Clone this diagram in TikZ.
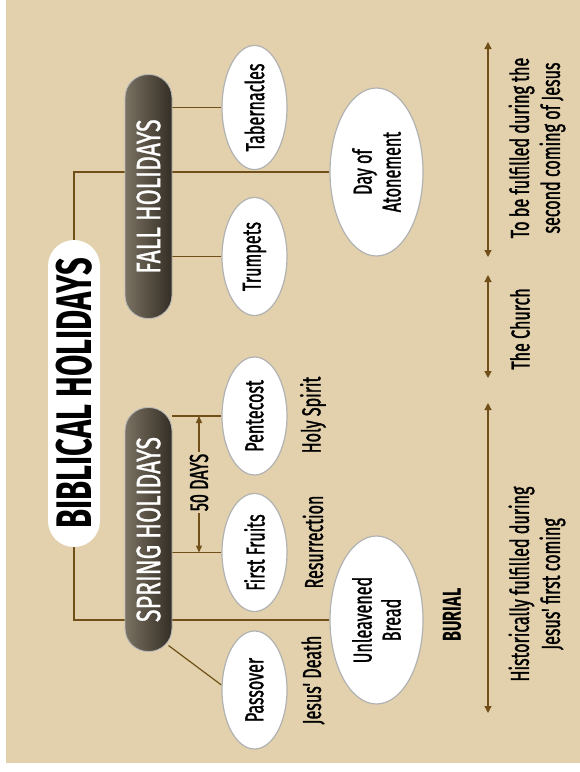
\documentclass[tikz,border=0pt]{standalone}
\usepackage{fontspec}
\setmainfont{Fira Sans}
\newfontfamily\cond[FakeStretch=0.62,FakeBold=1.2]{Fira Sans}
\newfontfamily\condb[FakeStretch=0.62]{Fira Sans}
\newfontfamily\condp[FakeStretch=0.68,FakeBold=0.8]{Fira Sans}
\usetikzlibrary{shapes.geometric,shapes.misc,arrows.meta,calc,backgrounds}
\definecolor{beige}{RGB}{226,209,172}
\definecolor{brownline}{RGB}{112,80,24}
\definecolor{pilldark}{RGB}{52,46,38}
\definecolor{pillmid}{RGB}{86,79,66}
\definecolor{pilllight}{RGB}{122,114,99}
\begin{document}
\begin{tikzpicture}[x=1pt,y=-1pt,
  every node/.style={rotate=90, inner sep=0pt},
  lbl/.style={font=\cond\fontsize{26}{31}\selectfont, align=center, text=black},
  holiday/.style={ellipse, draw=gray!60, line width=1.2pt, fill=white,
    minimum width=118pt, minimum height=65pt,
    font=\cond\fontsize{26}{29}\selectfont, align=center},
  bigholiday/.style={holiday, minimum width=168pt, minimum height=93pt},
  pillbox/.style={rectangle, rotate=-90, rounded corners=23pt, draw=gray!55, line width=0.9pt,
    left color=pilllight, right color=pilldark, middle color=pillmid,
    minimum width=47pt, minimum height=244pt},
  pilltext/.style={text=white, font=\condp\fontsize{34}{34}\selectfont},
  conn/.style={draw=brownline, line width=1.2pt},
  arr/.style={draw=brownline, line width=1.3pt,
    {Triangle[length=7pt,width=7pt]}-{Triangle[length=7pt,width=7pt]}},
  onearr/.style={draw=brownline, line width=1.2pt, -{Triangle[length=7pt,width=6pt]}}
]
\useasboundingbox (0,0) rectangle (580,772);

% group pills
\node[pillbox, label={[pilltext]center:FALL HOLIDAYS}] (fall) at (148.5,196.5) {};
\node[pillbox, label={[pilltext]center:SPRING HOLIDAYS}] (spring) at (148.5,529.5) {};

% title
\node[rounded rectangle, fill=white, minimum width=307pt, minimum height=52pt,
  font=\condb\bfseries\fontsize{50}{50}\selectfont] (title) at (74,393.5) {BIBLICAL HOLIDAYS};

% fall holidays
\node[holiday] (tab) at (254.5,107.5) {Tabernacles};
\node[holiday] (trump) at (254.5,256.5) {Trumpets};
\node[bigholiday] (atone) at (376.5,172) {Day of\\Atonement};

% spring holidays
\node[holiday] (pent) at (254.5,416) {Pentecost};
\node[holiday] (fruit) at (254.5,552.5) {First Fruits};
\node[holiday] (pass) at (254.5,690) {Passover};
\node[bigholiday] (bread) at (376.5,620) {Unleavened\\Bread};

% fulfilment labels
\node[lbl] (death) at (313,680) {Jesus' Death};
\node[lbl] (resur) at (313,542) {Resurrection};
\node[lbl] (spirit) at (313,415) {Holy Spirit};
\node[lbl, font=\condb\bfseries\fontsize{26}{31}\selectfont] (burial) at (452,615) {BURIAL};

% 50 days
\node[lbl, fill=beige, inner xsep=2pt] (fifty) at (199,482.5) {50 DAYS};

% timeline arrows
\coordinate (fa1) at (488,42);
\coordinate (fa2) at (488,257);
\coordinate (ch1) at (488,275);
\coordinate (ch2) at (488,378);
\coordinate (hi1) at (488,403);
\coordinate (hi2) at (488,713);

\node[lbl] (second) at (537,148) {To be fulfilled during the\\second coming of Jesus};
\node[lbl] (church) at (520,329) {The Church};
\node[lbl] (first) at (537,584) {Historically fulfilled during\\Jesus' first coming};

\begin{pgfonlayer}{background}
  \fill[white] (0,0) rectangle (580,772);
  \fill[beige] (6,0) rectangle (580,763);
  \draw[conn] (title.east) |- (atone.north);
  \draw[conn] (title.west) |- (bread.north);
  \draw[conn] (tab.north -| fall.east) -- (tab.north);
  \draw[conn] (trump.north -| fall.east) -- (trump.north);
  \draw[conn] (pent.north -| spring.east) -- (pent.north);
  \draw[conn] (fruit.north -| spring.east) -- (fruit.north);
  \draw[conn] ($(spring.center)+(20,116)$) -- ($(pass.north)+(0,-5)$);
  \draw[onearr] (fifty.east) -- (pent.north -| fifty.center);
  \draw[onearr] (fifty.west) -- (fruit.north -| fifty.center);
  \draw[arr] (fa1) -- (fa2);
  \draw[arr] (ch1) -- (ch2);
  \draw[arr] (hi1) -- (hi2);
\end{pgfonlayer}
\end{tikzpicture}
\end{document}
